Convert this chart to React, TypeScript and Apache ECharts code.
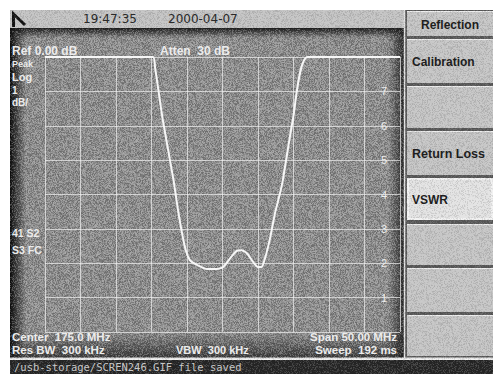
import React, { useEffect, useRef } from "react";
import * as echarts from "echarts";

// Trace: frequency (MHz) and level (grid divisions from bottom)
const freqMHz = [150, 165.2, 165.5, 166.6, 168.1, 168.8, 169.7, 170.4, 171.4, 172.8, 174.2, 175.1, 176.1, 177.0, 177.7, 178.4, 179.3, 180.0, 180.5, 181.0, 181.7, 182.4, 183.1, 183.5, 184.9, 187.0, 200];
const traceLevel = [8, 8, 7.7, 6.16, 4.42, 3.46, 2.48, 2.09, 1.95, 1.83, 1.83, 1.89, 2.15, 2.36, 2.38, 2.3, 2.04, 1.89, 1.89, 2.15, 2.73, 3.46, 4.04, 4.42, 6.16, 8, 8];
const scaleLabels = ["1", "2", "3", "4", "5", "6", "7"];
const softKeys = ["Reflection", "Calibration", "", "Return Loss", "VSWR", "", "", ""];
const headerTime = "19:47:35";
const headerDate = "2000-04-07";
const statusText = "/usb-storage/SCREN246.GIF file saved";

const W = 493;
const H = 374;

function makeNoise(): string {
  const c = document.createElement("canvas");
  c.width = W;
  c.height = H;
  const ctx = c.getContext("2d");
  if (!ctx) return "";
  const img = ctx.createImageData(W, H);
  let s = 987654321;
  const rnd = () => {
    s = (s * 1103515245 + 12345) & 0x7fffffff;
    return s / 0x7fffffff;
  };
  for (let y = 0; y < H; y++) {
    for (let x = 0; x < W; x++) {
      const i = (y * W + x) * 4;
      const r = rnd();
      if (x < 10 || y < 10) continue;
      let strength = 0.14;
      if (x < 404 && y > 28 && y < 358) strength = 0.3;
      if (y >= 360) strength = 0.2;
      const v = r < 0.5 ? 20 : 235;
      const a = Math.abs(r - 0.5) * 2 * strength;
      img.data[i] = v;
      img.data[i + 1] = v;
      img.data[i + 2] = v;
      img.data[i + 3] = Math.round(a * 255);
    }
  }
  ctx.putImageData(img, 0, 0);
  return c.toDataURL();
}

const buttonRows: [number, number][] = [
  [11, 36],
  [39, 83],
  [86, 128],
  [131, 175],
  [178, 220],
  [224, 265],
  [268, 312],
  [315, 356],
];

export default function App() {
  const ref = useRef<HTMLDivElement>(null);
  useEffect(() => {
    if (!ref.current) return;
    const chart = echarts.init(ref.current, undefined, { renderer: "svg" });
    const noise = makeNoise();

    const bg: any[] = [];
    const zb = -10;
    // header
    bg.push({ type: "rect", z: zb, shape: { x: 10, y: 10, width: 394, height: 18 }, style: { fill: "#c4c4c4" } });
    // display
    bg.push({ type: "rect", z: zb, shape: { x: 10, y: 28, width: 394, height: 330 }, style: { fill: "#8f8f8f" } });
    bg.push({
      type: "rect", z: zb, shape: { x: 10, y: 28, width: 16, height: 330 },
      style: { fill: new echarts.graphic.LinearGradient(0, 0, 1, 0, [{ offset: 0, color: "rgba(10,10,10,1)" }, { offset: 1, color: "rgba(10,10,10,0)" }]) },
    });
    bg.push({
      type: "rect", z: zb, shape: { x: 10, y: 28, width: 394, height: 10 },
      style: { fill: new echarts.graphic.LinearGradient(0, 0, 0, 1, [{ offset: 0, color: "rgba(20,20,20,0.95)" }, { offset: 1, color: "rgba(20,20,20,0)" }]) },
    });
    bg.push({
      type: "rect", z: zb, shape: { x: 388, y: 28, width: 16, height: 330 },
      style: { fill: new echarts.graphic.LinearGradient(0, 0, 1, 0, [{ offset: 0, color: "rgba(30,30,30,0)" }, { offset: 1, color: "rgba(30,30,30,0.9)" }]) },
    });
    bg.push({
      type: "rect", z: zb, shape: { x: 10, y: 332, width: 394, height: 26 },
      style: { fill: new echarts.graphic.LinearGradient(0, 0, 0, 1, [{ offset: 0, color: "rgba(30,30,30,0)" }, { offset: 1, color: "rgba(30,30,30,0.75)" }]) },
    });
    // panel
    bg.push({ type: "rect", z: zb, shape: { x: 404, y: 10, width: 89, height: 348 }, style: { fill: "#5a5a5a" } });
    buttonRows.forEach(([t, b], i) => {
      const sel = i === 4;
      bg.push({ type: "rect", z: zb, shape: { x: 407, y: t, width: 86, height: b - t }, style: { fill: sel ? "#e4e4e4" : "#c6c6c6" } });
      bg.push({ type: "line", z: zb, shape: { x1: 407, y1: t + 0.5, x2: 493, y2: t + 0.5 }, style: { stroke: "#efefef", lineWidth: 1 } });
      if (sel) {
        bg.push({ type: "rect", z: zb, shape: { x: 408, y: t + 1, width: 84, height: b - t - 2 }, style: { fill: "none", stroke: "#f8f8f8", lineWidth: 1.5 } });
      }
    });
    // separators
    bg.push({ type: "line", z: zb, shape: { x1: 404.5, y1: 10, x2: 404.5, y2: 359 }, style: { stroke: "#e6e6e6", lineWidth: 1.5 } });
    bg.push({ type: "line", z: zb, shape: { x1: 10, y1: 358.5, x2: 493, y2: 358.5 }, style: { stroke: "#e8e8e8", lineWidth: 2 } });
    bg.push({ type: "rect", z: zb, shape: { x: 10, y: 360, width: 483, height: 14 }, style: { fill: "#262626" } });
    // logo
    bg.push({ type: "polyline", z: zb + 1, shape: { points: [[13.5, 27], [13.5, 14], [25, 25]] }, style: { stroke: "#111", lineWidth: 3, fill: "none" } });

    const overlay: any[] = [];
    overlay.push({ type: "image", z: -5, style: { image: noise, x: 0, y: 0, width: W, height: H } });

    const txt: any[] = [];
    const zt = 10;
    const hdr = { fontFamily: "DejaVu Sans", fontSize: 12, fill: "#2a2a2a" };
    txt.push({ type: "text", z: zt, style: { text: headerTime, x: 83, y: 19, verticalAlign: "middle", ...hdr } });
    txt.push({ type: "text", z: zt, style: { text: headerDate, x: 168, y: 19, verticalAlign: "middle", ...hdr } });

    const wt = (text: string, x: number, y: number, size = 11, align = "left") => ({
      type: "text", z: zt,
      style: { text, x, y, align, verticalAlign: "middle", fontFamily: "Liberation Sans, Arial", fontWeight: "bold", fontSize: size, fill: "#ececec" },
    });
    txt.push(wt("Ref 0.00 dB", 12, 51, 12));
    txt.push(wt("Atten  30 dB", 160, 51, 12));
    txt.push(wt("Peak", 12, 64, 9));
    txt.push(wt("Log", 12, 77, 11));
    txt.push(wt("1", 12, 90, 10));
    txt.push(wt("dB/", 12, 102, 10));
    txt.push(wt("41 S2", 12, 233, 10.5));
    txt.push(wt("S3 FC", 12, 250, 10.5));
    txt.push(wt("Center  175.0 MHz", 12, 337, 11.5));
    txt.push(wt("Res BW  300 kHz", 12, 350, 11.5));
    txt.push(wt("VBW  300 kHz", 176, 350, 11));
    txt.push(wt("Span 50.00 MHz", 397, 337, 11.5, "right"));
    txt.push(wt("Sweep  192 ms", 397, 350, 11.5, "right"));

    softKeys.forEach((k, i) => {
      if (!k) return;
      const [t, b] = buttonRows[i];
      const center = i === 0;
      txt.push({
        type: "text", z: zt,
        style: {
          text: k, x: center ? 450 : 412, y: (t + b) / 2 + 1, align: center ? "center" : "left", verticalAlign: "middle",
          fontFamily: "Liberation Sans, Arial", fontWeight: "bold", fontSize: i === 3 ? 12.5 : 12, fill: "#1e1e1e",
        },
      });
    });
    txt.push({
      type: "text", z: zt,
      style: { text: statusText, x: 14, y: 367, verticalAlign: "middle", fontFamily: "DejaVu Sans Mono", fontSize: 10.5, fill: "#c8c8c8" },
    });

    chart.setOption({
      animation: false,
      backgroundColor: "#ffffff",
      grid: { left: 45, top: 57, right: 93, bottom: 42, containLabel: false },
      xAxis: {
        type: "value", min: 150, max: 200, interval: 5,
        axisLine: { show: false }, axisTick: { show: false }, axisLabel: { show: false },
        splitLine: { show: true, lineStyle: { color: "rgba(240,240,240,0.7)", width: 1 } },
      },
      yAxis: {
        type: "value", min: 0, max: 8, interval: 1, position: "right",
        axisLine: { show: false }, axisTick: { show: false },
        axisLabel: {
          show: true, inside: true, margin: 13, color: "#eeeeee", fontSize: 11, fontFamily: "Liberation Sans, Arial",
          formatter: (v: number) => (scaleLabels.indexOf(String(v)) >= 0 ? String(v) : ""),
        },
        splitLine: { show: true, lineStyle: { color: "rgba(240,240,240,0.7)", width: 1 } },
      },
      graphic: { elements: [...bg, ...overlay, ...txt] },
      series: [
        {
          type: "line",
          data: freqMHz.map((f, i) => [f, traceLevel[i]]),
          showSymbol: false,
          smooth: 0.2,
          lineStyle: { color: "#f6f6f6", width: 2 },
          z: 3,
        },
      ],
    });
    return () => chart.dispose();
  }, []);
  return <div ref={ref} style={{ position: "absolute", left: 0, top: 0, width: W, height: H }} />;
}
